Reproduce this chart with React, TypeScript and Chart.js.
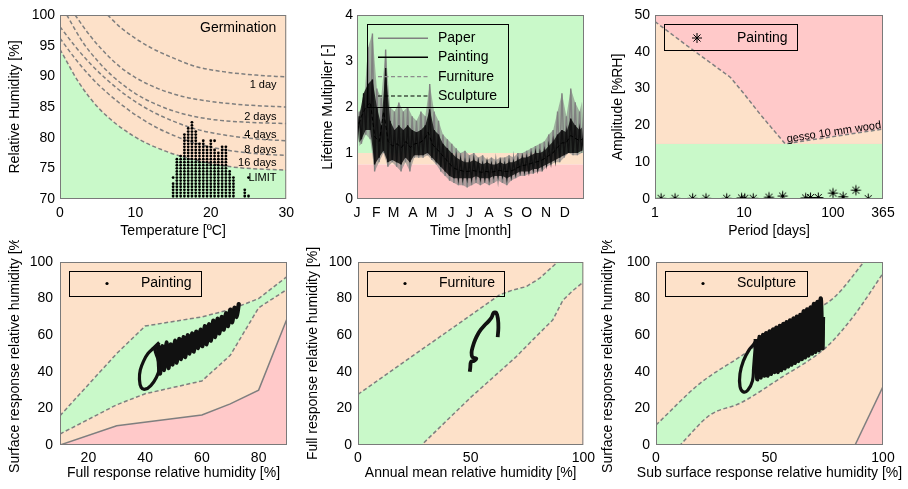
import React, { useEffect, useRef } from 'react';
import { Chart, registerables } from 'chart.js';

Chart.register(...registerables);

const FONT = '"Liberation Sans", Arial, Helvetica, sans-serif';
Chart.defaults.font.family = FONT;

const PEACH = '#fde1c9';
const GREEN = '#c9f9c9';
const PINK = '#ffc9c9';
const DGRAY = '#7f7f7f';
const FRAME = '#7a7a7a';
const DASH = [4, 2.5];

// ---------------- Panel 1: Germination ----------------
const germTicksX = [0, 10, 20, 30];
const germTicksY = [70, 75, 80, 85, 90, 95, 100];
const day1T = [6.3, 8, 10, 12, 15, 18, 22, 26, 30];
const day1RH = [100, 98.0, 96.2, 94.7, 93.0, 91.6, 90.7, 90.2, 89.9];
const day2T = [2.0, 4, 6, 8, 10, 13, 16, 20, 25, 30];
const day2RH = [100, 96.6, 93.8, 91.5, 89.8, 88.0, 86.8, 85.9, 85.3, 85.0];
const day4T = [0.9, 3, 5, 7, 10, 13, 16, 20, 25, 30];
const day4RH = [100, 95.6, 92.5, 90.0, 87.2, 85.3, 84.0, 83.0, 82.5, 82.3];
const day8T = [0, 2, 4, 6, 9, 12, 15, 18, 22, 26, 30];
const day8RH = [98.1, 94.9, 92.1, 89.7, 86.7, 84.4, 82.7, 81.4, 80.4, 79.8, 79.5];
const day16T = [0, 2, 4, 6, 9, 12, 15, 18, 22, 26, 30];
const day16RH = [96.2, 92.9, 90.0, 87.6, 84.6, 82.2, 80.4, 79.1, 78.0, 77.4, 77.1];
const limitT = [0, 2.6, 5.3, 9.7, 14, 18.5, 23, 30];
const limitRH = [94.4, 88.8, 84.6, 80.3, 77.8, 76.2, 75.2, 74.7];
const germLabels = ['1 day', '2 days', '4 days', '8 days', '16 days', 'LIMIT'];
const germLabelRH = [88.6, 83.4, 80.5, 78.0, 75.8, 73.4];
const germLabelT = 28.72;
const germTitle = 'Germination';
const germTitleT = 28.68;
const germTitleRH = 97.85;
// observed (T, RH) histogram columns
const colT = [15, 15.5, 16, 16.5, 17, 17.5, 18, 18.5, 19, 19.5, 20, 20.5, 21, 21.5, 22, 22.5, 23, 24.5, 25];
const colTop = [72.5, 76.5, 77, 80.5, 81.5, 82.5, 81, 79, 79.5, 78.5, 79.5, 78, 77.5, 78.5, 78.5, 74.5, 73.5, 71.5, 70.5];
const gridRH = [70, 70.5, 71, 71.5, 72, 72.5, 73, 73.5, 74, 74.5, 75, 75.5, 76, 76.5, 77, 77.5, 78, 78.5, 79, 79.5, 80, 80.5, 81, 81.5, 82, 82.5];
const extraT = [15, 20.5, 25];
const extraRH = [73.5, 79.5, 73.5];

// ---------------- Panel 2: Lifetime multiplier ----------------
const monthStart = [0, 31, 59, 90, 120, 151, 181, 212, 243, 273, 304, 334];
const monthLabels = ['J', 'F', 'M', 'A', 'M', 'J', 'J', 'A', 'S', 'O', 'N', 'D'];
const lifeTicksY = [0, 1, 2, 3, 4];
const riskLow = 0.75;
const riskMid = 1.0;
const riskTop = 4;
const paperHi = [1.9, 2.0, 3.3, 3.6, 2.4, 2.2, 3.25, 2.0, 1.9, 2.1, 1.9, 2.0, 1.8, 1.7, 1.9, 1.8, 2.5, 1.9, 1.7, 1.4, 1.3, 1.2, 1.1, 1.0, 1.05, 0.95, 1.0, 0.9, 0.95, 0.85, 0.9, 0.85, 0.9, 0.9, 0.95, 0.9, 1.0, 1.0, 1.05, 1.1, 1.15, 1.2, 1.25, 1.4, 1.5, 1.9, 2.3, 1.8, 2.4, 2.1, 1.9, 2.3];
const paperLo = [1.1, 1.2, 1.4, 1.3, 0.6, 0.8, 1.0, 0.7, 0.8, 0.7, 0.6, 0.8, 0.6, 0.9, 0.9, 0.9, 0.95, 0.85, 0.75, 0.6, 0.5, 0.4, 0.35, 0.3, 0.3, 0.25, 0.3, 0.35, 0.3, 0.35, 0.3, 0.35, 0.4, 0.35, 0.3, 0.4, 0.45, 0.5, 0.5, 0.55, 0.55, 0.6, 0.6, 0.7, 0.75, 0.8, 0.8, 0.9, 1.0, 0.95, 0.95, 1.0];
const paintingHi = [1.8, 2.3, 2.5, 2.6, 2.0, 1.6, 2.85, 1.7, 1.5, 1.6, 1.5, 1.6, 1.5, 1.45, 1.5, 1.6, 1.95, 1.5, 1.4, 1.2, 1.1, 1.0, 0.9, 0.85, 0.8, 0.8, 0.85, 0.8, 0.75, 0.8, 0.75, 0.75, 0.8, 0.75, 0.8, 0.8, 0.85, 0.9, 0.9, 0.95, 1.0, 1.0, 1.05, 1.15, 1.25, 1.4, 1.5, 1.45, 1.75, 1.6, 1.5, 1.6];
const paintingLo = [1.15, 1.3, 1.5, 1.5, 0.75, 0.9, 1.05, 0.8, 0.85, 0.8, 0.75, 0.9, 0.8, 0.95, 0.95, 0.95, 1.0, 0.9, 0.8, 0.7, 0.6, 0.5, 0.45, 0.45, 0.45, 0.45, 0.45, 0.5, 0.45, 0.45, 0.45, 0.5, 0.5, 0.5, 0.45, 0.5, 0.55, 0.6, 0.6, 0.6, 0.65, 0.65, 0.7, 0.75, 0.8, 0.85, 0.9, 0.95, 1.0, 1.0, 1.0, 1.05];
const furnitureWeekly = [1.4, 1.7, 1.9, 2.0, 1.3, 1.2, 1.8, 1.2, 1.1, 1.15, 1.1, 1.2, 1.1, 1.15, 1.2, 1.25, 1.4, 1.15, 1.05, 0.95, 0.85, 0.75, 0.68, 0.65, 0.62, 0.62, 0.64, 0.62, 0.6, 0.62, 0.6, 0.62, 0.64, 0.62, 0.62, 0.64, 0.7, 0.74, 0.75, 0.78, 0.82, 0.83, 0.88, 0.95, 1.0, 1.1, 1.2, 1.2, 1.35, 1.3, 1.25, 1.3];
const sculptureWeekly = [1.5, 1.8, 2.0, 2.1, 1.35, 1.25, 1.9, 1.25, 1.15, 1.2, 1.12, 1.25, 1.12, 1.2, 1.22, 1.28, 1.45, 1.18, 1.08, 0.97, 0.86, 0.74, 0.66, 0.63, 0.6, 0.6, 0.62, 0.6, 0.58, 0.6, 0.58, 0.6, 0.62, 0.6, 0.6, 0.62, 0.68, 0.72, 0.74, 0.77, 0.8, 0.82, 0.87, 0.94, 1.0, 1.12, 1.22, 1.22, 1.38, 1.32, 1.27, 1.32];
const lifeLegend = ['Paper', 'Painting', 'Furniture', 'Sculpture'];

// ---------------- Panel 3: Amplitude vs period ----------------
const periodTicks = [1, 10, 100, 365];
const ampTicks = [0, 10, 20, 30, 40, 50];
const periodDays = [1.17, 1.68, 2.65, 3.74, 6.4, 9.4, 10.2, 12.7, 19.1, 27.2, 49.3, 56, 68.4, 100, 130, 181, 249];
const amplitudeRH = [0.2, 0.2, 0.2, 0.2, 0.2, 0.3, 0.2, 0.2, 0.5, 0.8, 0.3, 0.4, 0.4, 1.6, 0.6, 2.4, 0.1];
const gessoP = [1, 2.4, 7, 10, 15, 20, 29, 365];
const gessoA = [48.2, 41.3, 33.1, 28.6, 23.2, 19.6, 15, 19];
const safeAmpP = [1, 365];
const safeAmpA = [15, 15];

// ---------------- Panel 4: Painting ----------------
const fullTicks = [20, 40, 60, 80];
const pctTicks = [0, 20, 40, 60, 80, 100];
const p4UpperX = [10, 30, 40, 60, 70, 80, 90];
const p4UpperY = [16, 50, 65, 70, 74, 80, 92];
const p4LowerX = [10, 30, 40, 60, 70, 80, 90];
const p4LowerY = [6, 22, 28, 35, 49, 75, 85];
const p4RedX = [10, 30, 60, 70, 80, 90];
const p4RedY = [0, 10.5, 16.4, 22.5, 30, 69];
const paintLoopX = [45, 43, 41, 39.5, 38.3, 38, 38.6, 40, 42, 44, 45, 44.5, 43.5, 44.5];
const paintLoopY = [56, 53, 50, 46, 41, 36, 31.5, 30.5, 32.5, 37, 42, 47, 52, 55];
const paintBandX = [44.5, 45.2, 46, 46.7, 47.5, 48.2, 49, 49.7, 50.5, 51.2, 52, 52.7, 53.5, 54.2, 55, 55.7, 56.5, 57.2, 58, 58.7, 59.5, 60.2, 61, 61.7, 62.5, 63.2, 64, 64.7, 65.5, 66.2, 67, 67.7, 68.5, 69.2, 70, 70.7, 71.5, 72.2, 73, 72.6];
const paintBandY = [55, 39, 54, 41, 56, 42, 55, 44, 57, 45, 58, 47, 59, 48, 60, 50, 61, 51, 62, 53, 63, 54, 65, 55, 66, 57, 68, 59, 69, 61, 70, 63, 72, 65, 74, 67, 75, 70, 77, 73];

// ---------------- Panel 5: Furniture ----------------
const halfTicks = [0, 50, 100];
const p5UpperX = [0, 62.8, 68.7, 74.6, 80.5, 88.6, 100];
const p5UpperY = [27.7, 82, 84.7, 86.5, 91, 100, 113];
const p5LowerX = [0, 28.2, 50, 70, 78, 86.4, 90.9, 95, 100];
const p5LowerY = [-33, 0, 26, 48, 58, 68.3, 79, 84, 89];
const furnX = [62, 62.3, 62.1, 61.3, 60.2, 59.2, 57.8, 56, 54.5, 53.2, 52, 51, 50.4, 50.8, 52.5, 51.5, 50.2, 49.8, 49.6];
const furnY = [59, 64, 69, 72.3, 72.2, 69.5, 67.4, 65.2, 63, 60.5, 57.5, 54, 50.5, 48, 47.2, 46, 45.5, 42, 40];

// ---------------- Panel 6: Sculpture ----------------
const p6UpperX = [0, 19.4, 37, 60.5, 78.1, 91.3, 100];
const p6UpperY = [10.9, 33.7, 48.2, 68.3, 80.2, 99.6, 113];
const p6LowerX = [0, 10.6, 23.8, 37, 54.6, 75.2, 86.9, 100];
const p6LowerY = [-13, 0, 16.4, 22.8, 36.4, 53.7, 70.2, 93.8];
const p6RedX = [87.7, 100];
const p6RedY = [0, 31.9];
const sculLoopX = [44, 43, 41, 38.5, 37, 37, 38.5, 40.5, 42.5, 43, 43.5, 44];
const sculLoopY = [57, 55, 52, 46, 39, 32, 29, 30, 35, 42, 50, 57];
const sculBandX = [44, 44.75, 45.5, 46.25, 47, 47.75, 48.5, 49.25, 50, 50.75, 51.5, 52.25, 53, 53.75, 54.5, 55.25, 56, 56.75, 57.5, 58.25, 59, 59.75, 60.5, 61.25, 62, 62.75, 63.5, 64.25, 65, 65.75, 66.5, 67.25, 68, 68.75, 69.5, 70.25, 71, 71.75, 72.5, 73.25, 73.5];
const sculBandY = [58, 36, 59, 37, 60, 38, 61, 38, 62, 39, 63, 40, 64, 40, 65, 41, 66, 42, 67, 43, 68, 44, 69, 45, 70, 46, 71, 47, 73, 48, 74, 49, 75, 50, 77, 51, 78, 52, 80, 53, 70];

// ---------------- helpers ----------------
type Pt = { x: number; y: number };
const zip = (xs: number[], ys: number[]): Pt[] => xs.map((x, i) => ({ x, y: ys[i] }));

function zigzag(lo: number[], hi: number[], span: number): Pt[] {
  const n = lo.length;
  const pts: Pt[] = [];
  for (let i = 0; i < n; i++) {
    pts.push({ x: ((2 * i) * span) / (2 * n - 1), y: lo[i] });
    pts.push({ x: ((2 * i + 1) * span) / (2 * n - 1), y: hi[i] });
  }
  return pts;
}
function envelope(v: number[], span: number, phase: number): Pt[] {
  const n = v.length;
  return v.map((y, i) => ({ x: ((2 * i + phase) * span) / (2 * n - 1), y }));
}
const weekly = (v: number[], span: number): Pt[] => v.map((y, i) => ({ x: (i * span) / (v.length - 1), y }));

function axis(kind: 'x' | 'y', o: any) {
  const f = { family: FONT, size: 14 };
  return {
    type: o.type || 'linear',
    position: kind === 'x' ? 'bottom' : 'left',
    min: o.min,
    max: o.max,
    grid: { display: false, drawTicks: false },
    border: { display: false },
    afterBuildTicks: (s: any) => {
      s.ticks = o.ticks.map((v: number) => ({ value: v }));
    },
    afterFit: (s: any) => {
      if (kind === 'x') s.height = o.size;
      else s.width = o.size;
    },
    ticks: {
      color: '#000',
      font: f,
      padding: o.tickPad,
      autoSkip: false,
      maxRotation: 0,
      minRotation: 0,
      callback: (v: number, i: number) => (o.labels ? o.labels[i] : String(v)),
    },
    title: {
      display: o.showTitle !== false,
      text: o.title,
      color: '#000',
      font: f,
      padding: kind === 'x' ? { top: 0, bottom: o.titlePad } : { top: o.titlePad, bottom: 0 },
    },
  };
}

function baseOptions(x: any, y: any, padding: any) {
  return {
    responsive: false,
    animation: false,
    devicePixelRatio: 1,
    events: [],
    layout: { padding },
    plugins: { legend: { display: false }, tooltip: { enabled: false } },
    scales: { x, y },
  };
}

function decor(bg: string | null, draw?: (c: any, ctx: CanvasRenderingContext2D, a: any) => void) {
  return {
    id: 'decor',
    beforeDatasetsDraw(c: any) {
      if (!bg) return;
      const { ctx, chartArea: a } = c;
      ctx.save();
      ctx.fillStyle = bg;
      ctx.fillRect(a.left, a.top, a.right - a.left, a.bottom - a.top);
      ctx.restore();
    },
    afterDatasetsDraw(c: any) {
      const { ctx, chartArea: a } = c;
      ctx.save();
      if (draw) draw(c, ctx, a);
      ctx.restore();
      ctx.save();
      ctx.strokeStyle = FRAME;
      ctx.lineWidth = 1;
      ctx.setLineDash([]);
      ctx.strokeRect(a.left + 0.5, a.top + 0.5, a.right - a.left - 1, a.bottom - a.top - 1);
      ctx.restore();
    },
  };
}

function txt(ctx: CanvasRenderingContext2D, s: string, x: number, y: number, size: number, align: CanvasTextAlign = 'left') {
  ctx.font = `${size}px ${FONT}`;
  ctx.fillStyle = '#000';
  ctx.textAlign = align;
  ctx.textBaseline = 'middle';
  ctx.fillText(s, x, y);
}

function legendBox(ctx: CanvasRenderingContext2D, a: any, x0: number, y0: number, x1: number, y1: number) {
  ctx.strokeStyle = '#000';
  ctx.lineWidth = 1;
  ctx.setLineDash([]);
  ctx.strokeRect(Math.round(a.left + x0) + 0.5, Math.round(a.top + y0) + 0.5, Math.round(x1 - x0), Math.round(y1 - y0));
}

function star(ctx: CanvasRenderingContext2D, x: number, y: number, r: number) {
  ctx.beginPath();
  for (let k = 0; k < 4; k++) {
    const ang = (k * Math.PI) / 4;
    ctx.moveTo(x - r * Math.cos(ang), y - r * Math.sin(ang));
    ctx.lineTo(x + r * Math.cos(ang), y + r * Math.sin(ang));
  }
  ctx.strokeStyle = '#000';
  ctx.lineWidth = 1;
  ctx.stroke();
}

function starImage(): HTMLCanvasElement {
  const cv = document.createElement('canvas');
  cv.width = 13;
  cv.height = 13;
  const ctx = cv.getContext('2d') as CanvasRenderingContext2D;
  star(ctx, 6.5, 6.5, 5);
  return cv;
}

function dotLegend(label: string, bx1: number, extra?: (c: any, ctx: CanvasRenderingContext2D, a: any) => void) {
  return (c: any, ctx: CanvasRenderingContext2D, a: any) => {
    legendBox(ctx, a, 8.5, 9, bx1, 34);
    ctx.beginPath();
    ctx.arc(a.left + 47, a.top + 21.5, 1.6, 0, Math.PI * 2);
    ctx.fillStyle = '#000';
    ctx.fill();
    txt(ctx, label, a.left + 81, a.top + 21.5, 14);
    if (extra) extra(c, ctx, a);
  };
}

const lineDs = (data: Pt[], extra: any = {}) => ({
  type: 'line',
  data,
  borderColor: DGRAY,
  borderWidth: 1.5,
  borderDash: DASH,
  pointRadius: 0,
  fill: false,
  ...extra,
});
const fillOnly = (data: Pt[], fill: any, color: string, order: number) => ({
  type: 'line',
  data,
  borderColor: 'rgba(0,0,0,0)',
  borderWidth: 1,
  pointRadius: 0,
  fill,
  backgroundColor: color,
  order,
});
const scribble = (data: Pt[], w: number) => ({
  type: 'line',
  data,
  borderColor: '#111',
  borderWidth: w,
  tension: 0.4,
  pointRadius: 0,
  fill: false,
  order: 1,
});

// ---------------- chart configs ----------------
function makeGerm() {
  const pts: Pt[] = [];
  colT.forEach((t, i) => gridRH.forEach((r) => { if (r <= colTop[i]) pts.push({ x: t, y: r }); }));
  extraT.forEach((t, i) => pts.push({ x: t, y: extraRH[i] }));
  const mono = { cubicInterpolationMode: 'monotone' };
  return {
    type: 'line',
    data: {
      datasets: [
        lineDs(zip(limitT, limitRH), { ...mono, fill: 'start', backgroundColor: GREEN, order: 6 }),
        lineDs(zip(day16T, day16RH), { ...mono, order: 5 }),
        lineDs(zip(day8T, day8RH), { ...mono, order: 5 }),
        lineDs(zip(day4T, day4RH), { ...mono, order: 5 }),
        lineDs(zip(day2T, day2RH), { ...mono, order: 5 }),
        lineDs(zip(day1T, day1RH), { ...mono, order: 5 }),
        { type: 'line', data: pts, showLine: false, pointRadius: 1.4, pointBorderWidth: 0, pointBackgroundColor: '#000', borderColor: '#000', fill: false, order: 1 },
      ],
    },
    options: baseOptions(
      axis('x', { min: 0, max: 30, ticks: germTicksX, title: 'Temperature [ºC]', size: 41, tickPad: 6, titlePad: 0 }),
      axis('y', { min: 70, max: 100, ticks: germTicksY, title: 'Relative Humidity [%]', size: 60, tickPad: 5, titlePad: 7 }),
      { left: 0, top: 15, right: 13, bottom: 0 }
    ),
    plugins: [
      decor(PEACH, (c, ctx) => {
        const xs = c.scales.x, ys = c.scales.y;
        txt(ctx, germTitle, xs.getPixelForValue(germTitleT), ys.getPixelForValue(germTitleRH), 14, 'right');
        germLabels.forEach((s, i) => txt(ctx, s, xs.getPixelForValue(germLabelT), ys.getPixelForValue(germLabelRH[i]), 11, 'right'));
      }),
    ],
  };
}

function makeLife() {
  const span = 365;
  const band = (v: number): Pt[] => [{ x: 0, y: v }, { x: span, y: v }];
  return {
    type: 'line',
    data: {
      datasets: [
        fillOnly(band(riskLow), 'start', PINK, 20),
        fillOnly(band(riskMid), '-1', PEACH, 20),
        fillOnly(band(riskTop), '-1', GREEN, 20),
        // paper band + trace
        fillOnly(envelope(paperLo, span, 0), false, 'rgba(0,0,0,0)', 9),
        fillOnly(envelope(paperHi, span, 1), '-1', 'rgba(128,128,128,0.6)', 9),
        { type: 'line', data: zigzag(paperLo, paperHi, span), borderColor: '#808080', borderWidth: 1.4, pointRadius: 0, fill: false, order: 8 },
        { type: 'line', data: weekly(furnitureWeekly, span), borderColor: '#8c8c8c', borderWidth: 1, borderDash: DASH, pointRadius: 0, fill: false, order: 7 },
        // painting band + trace
        fillOnly(envelope(paintingLo, span, 0), false, 'rgba(0,0,0,0)', 6.5),
        fillOnly(envelope(paintingHi, span, 1), '-1', 'rgba(17,17,17,0.85)', 6.5),
        { type: 'line', data: zigzag(paintingLo, paintingHi, span), borderColor: '#111', borderWidth: 1.4, pointRadius: 0, fill: false, order: 6 },
        { type: 'line', data: weekly(sculptureWeekly, span), borderColor: '#000', borderWidth: 1, borderDash: DASH, pointRadius: 0, fill: false, order: 5 },
      ],
    },
    options: baseOptions(
      axis('x', { min: 0, max: 365, ticks: monthStart, labels: monthLabels, title: 'Time [month]', size: 41, tickPad: 6, titlePad: 0 }),
      axis('y', { min: 0, max: 4, ticks: lifeTicksY, title: 'Lifetime Multiplier [-]', size: 57, tickPad: 4, titlePad: 20 }),
      { left: 0, top: 15, right: 16, bottom: 0 }
    ),
    plugins: [
      decor(null, (c, ctx, a) => {
        legendBox(ctx, a, 9.7, 9, 150.3, 92.3);
        const rows = [23.3, 42.3, 61.7, 81];
        const styles = [
          { color: '#808080', dash: [] as number[], w: 1.5 },
          { color: '#000', dash: [] as number[], w: 1.5 },
          { color: '#8c8c8c', dash: DASH, w: 1.2 },
          { color: '#000', dash: DASH, w: 1.2 },
        ];
        lifeLegend.forEach((s, i) => {
          const y = a.top + rows[i];
          ctx.beginPath();
          ctx.strokeStyle = styles[i].color;
          ctx.lineWidth = styles[i].w;
          ctx.setLineDash(styles[i].dash);
          ctx.moveTo(a.left + 21, y);
          ctx.lineTo(a.left + 71, y);
          ctx.stroke();
          ctx.setLineDash([]);
          txt(ctx, s, a.left + 81, y, 14);
        });
      }),
    ],
  };
}

function makeAmp() {
  return {
    type: 'line',
    data: {
      datasets: [
        fillOnly(zip(safeAmpP, safeAmpA), 'start', GREEN, 10),
        lineDs(zip(gessoP, gessoA), { fill: 0, backgroundColor: PEACH, order: 9 }),
        { type: 'line', data: zip(periodDays, amplitudeRH), showLine: false, pointStyle: starImage(), pointRadius: 6, borderColor: '#000', fill: false, order: 1 },
      ],
    },
    options: baseOptions(
      axis('x', { type: 'logarithmic', min: 1, max: 365, ticks: periodTicks, title: 'Period [days]', size: 41, tickPad: 6, titlePad: 0 }),
      axis('y', { min: 0, max: 50, ticks: ampTicks, title: 'Amplitude [%RH]', size: 55, tickPad: 5, titlePad: 10 }),
      { left: 0, top: 15, right: 25, bottom: 0 }
    ),
    plugins: [
      decor(PINK, (c, ctx, a) => {
        const xs = c.scales.x, ys = c.scales.y;
        const x1 = xs.getPixelForValue(gessoP[gessoP.length - 2]);
        const y1 = ys.getPixelForValue(gessoA[gessoA.length - 2]);
        const x2 = xs.getPixelForValue(gessoP[gessoP.length - 1]);
        const y2 = ys.getPixelForValue(gessoA[gessoA.length - 1]);
        const ang = Math.atan2(y2 - y1, x2 - x1);
        ctx.save();
        ctx.translate(x1 + 2, y1 - 1.5);
        ctx.rotate(ang);
        ctx.font = `11px ${FONT}`;
        ctx.fillStyle = '#000';
        ctx.textAlign = 'left';
        ctx.textBaseline = 'alphabetic';
        ctx.fillText('gesso 10 mm wood', 0, 0);
        ctx.restore();
        legendBox(ctx, a, 9, 9, 142, 35);
        star(ctx, a.left + 42, a.top + 23, 5);
        txt(ctx, 'Painting', a.left + 82, a.top + 23, 14);
      }),
    ],
  };
}

function makePaint() {
  return {
    type: 'line',
    data: {
      datasets: [
        lineDs(zip(p4UpperX, p4UpperY), { fill: '+1', backgroundColor: GREEN, order: 10 }),
        lineDs(zip(p4LowerX, p4LowerY), { order: 9 }),
        lineDs(zip(p4RedX, p4RedY), { borderDash: [], fill: 'start', backgroundColor: PINK, order: 8 }),
        scribble(zip(paintLoopX, paintLoopY), 3.2),
        scribble(zip(paintBandX, paintBandY), 4.2),
      ],
    },
    options: baseOptions(
      axis('x', { min: 10, max: 90, ticks: fullTicks, title: 'Full response relative humidity [%]', size: 44, tickPad: 5, titlePad: 7 }),
      axis('y', { min: 0, max: 100, ticks: pctTicks, title: 'Surface response relative humidity [%]', size: 60, tickPad: 7, titlePad: 7 }),
      { left: 0, top: 22, right: 13, bottom: 0 }
    ),
    plugins: [decor(PEACH, dotLegend('Painting', 140))],
  };
}

function makeFurn() {
  return {
    type: 'line',
    data: {
      datasets: [
        lineDs(zip(p5UpperX, p5UpperY), { fill: '+1', backgroundColor: GREEN, order: 10 }),
        lineDs(zip(p5LowerX, p5LowerY), { order: 9 }),
        scribble(zip(furnX, furnY), 3.8),
      ],
    },
    options: baseOptions(
      axis('x', { min: 0, max: 100, ticks: halfTicks, title: 'Annual mean relative humidity [%]', size: 44, tickPad: 5, titlePad: 7 }),
      axis('y', { min: 0, max: 100, ticks: pctTicks, title: 'Full response relative humidity [%]', size: 58, tickPad: 6, titlePad: 5 }),
      { left: 0, top: 22, right: 16, bottom: 0 }
    ),
    plugins: [decor(PEACH, dotLegend('Furniture', 145))],
  };
}

const sculptXTitle = 'Sub surface response relative humidity [%]';

function makeSculpt() {
  return {
    type: 'line',
    data: {
      datasets: [
        lineDs(zip(p6UpperX, p6UpperY), { fill: '+1', backgroundColor: GREEN, order: 10, cubicInterpolationMode: 'monotone' }),
        lineDs(zip(p6LowerX, p6LowerY), { order: 9, cubicInterpolationMode: 'monotone' }),
        lineDs(zip(p6RedX, p6RedY), { borderDash: [], fill: 'start', backgroundColor: PINK, order: 8 }),
        scribble(zip(sculLoopX, sculLoopY), 3.2),
        scribble(zip(sculBandX, sculBandY), 4.6),
      ],
    },
    options: baseOptions(
      axis('x', { min: 0, max: 100, ticks: halfTicks, title: sculptXTitle, showTitle: false, size: 44, tickPad: 5, titlePad: 7 }),
      axis('y', { min: 0, max: 100, ticks: pctTicks, title: 'Surface response relative humidity [%]', size: 56, tickPad: 6, titlePad: 0 }),
      { left: 0, top: 22, right: 25, bottom: 0 }
    ),
    plugins: [
      decor(
        PEACH,
        dotLegend('Sculpture', 150.5, (c, ctx, a) => {
          txt(ctx, sculptXTitle, (a.left + a.right) / 2, a.bottom + 28.6, 14, 'center');
        })
      ),
    ],
  };
}

const PANELS = [
  { left: 0, top: 0, width: 300, height: 240, make: makeGerm },
  { left: 300, top: 0, width: 300, height: 240, make: makeLife },
  { left: 600, top: 0, width: 308, height: 240, make: makeAmp },
  { left: 0, top: 240, width: 300, height: 249, make: makePaint },
  { left: 300, top: 240, width: 300, height: 249, make: makeFurn },
  { left: 600, top: 240, width: 308, height: 249, make: makeSculpt },
];

function Panel(p: { left: number; top: number; width: number; height: number; make: () => any }) {
  const ref = useRef<HTMLCanvasElement>(null);
  useEffect(() => {
    const chart = new Chart(ref.current as HTMLCanvasElement, p.make());
    return () => chart.destroy();
  }, []);
  return (
    <canvas
      ref={ref}
      width={p.width}
      height={p.height}
      style={{ position: 'absolute', left: p.left, top: p.top, width: p.width, height: p.height }}
    />
  );
}

export default function App() {
  return (
    <div style={{ position: 'fixed', left: 0, top: 0, width: 908, height: 489, background: '#fff', overflow: 'hidden' }}>
      {PANELS.map((p, i) => (
        <Panel key={i} {...p} />
      ))}
    </div>
  );
}
